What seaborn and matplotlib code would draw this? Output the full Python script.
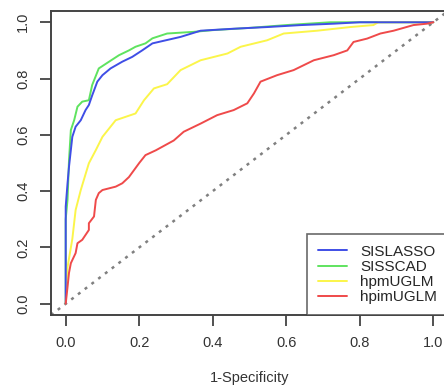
import pandas as pd
import matplotlib
matplotlib.use('Agg')
import matplotlib.pyplot as plt
import seaborn as sns

# ROC points (1-specificity, sensitivity)
lasso_fpr = [0.0, 0.0, 0.0, 0.005, 0.009, 0.014, 0.018, 0.027, 0.041, 0.054, 0.063,
             0.072, 0.086, 0.1, 0.122, 0.154, 0.181, 0.208, 0.236, 0.3125, 0.367,
             0.457, 0.548, 0.64, 0.73, 0.80, 1.0]
lasso_tpr = [0.0, 0.20, 0.345, 0.428, 0.487, 0.546, 0.593, 0.629, 0.652, 0.688, 0.706,
             0.74, 0.789, 0.812, 0.836, 0.86, 0.877, 0.90, 0.925, 0.948, 0.97,
             0.977, 0.983, 0.99, 0.995, 1.0, 1.0]

scad_fpr = [0.0, 0.0, 0.005, 0.009, 0.014, 0.023, 0.032, 0.045, 0.063, 0.072, 0.09,
            0.118, 0.145, 0.172, 0.19, 0.217, 0.236, 0.276, 0.349, 0.40, 0.50,
            0.60, 0.72, 1.0]
scad_tpr = [0.0, 0.30, 0.37, 0.51, 0.617, 0.652, 0.70, 0.718, 0.723, 0.777, 0.836,
            0.86, 0.883, 0.90, 0.913, 0.925, 0.943, 0.96, 0.966, 0.972, 0.98,
            0.99, 1.0, 1.0]

hpm_fpr = [0.0, 0.005, 0.018, 0.027, 0.041, 0.063, 0.082, 0.1, 0.136, 0.19, 0.213,
           0.24, 0.276, 0.3125, 0.367, 0.44, 0.476, 0.548, 0.593, 0.684,
           0.774, 0.837, 0.85, 1.0]
hpm_tpr = [0.0, 0.13, 0.23, 0.333, 0.404, 0.499, 0.546, 0.593, 0.652, 0.676, 0.723,
           0.765, 0.78, 0.83, 0.865, 0.889, 0.913, 0.936, 0.96, 0.97,
           0.983, 0.99, 1.0, 1.0]

hpim_fpr = [0.0, 0.005, 0.009, 0.014, 0.027, 0.032, 0.045, 0.063, 0.063, 0.077, 0.082,
            0.09, 0.1, 0.136, 0.154, 0.172, 0.2, 0.217, 0.245, 0.294, 0.321,
            0.367, 0.412, 0.457, 0.494, 0.512, 0.53, 0.575, 0.62, 0.675, 0.729,
            0.766, 0.783, 0.82, 0.856, 0.892, 0.946, 0.983, 1.0]
hpim_tpr = [0.0, 0.06, 0.11, 0.144, 0.18, 0.215, 0.227, 0.262, 0.286, 0.31, 0.369,
            0.393, 0.404, 0.416, 0.428, 0.45, 0.50, 0.528, 0.545, 0.58, 0.611,
            0.64, 0.67, 0.688, 0.712, 0.747, 0.789, 0.812, 0.83, 0.865, 0.883,
            0.90, 0.93, 0.942, 0.96, 0.97, 0.99, 0.995, 1.0]

methods = ['SISLASSO', 'SISSCAD', 'hpmUGLM', 'hpimUGLM']
colors = {'SISLASSO': '#3f4ee6', 'SISSCAD': '#5fe35f',
          'hpmUGLM': '#fbf54a', 'hpimUGLM': '#ef4a4a'}
x_ticks = [0.0, 0.2, 0.4, 0.6, 0.8, 1.0]
y_ticks = [0.0, 0.2, 0.4, 0.6, 0.8, 1.0]

curves = {'SISLASSO': (lasso_fpr, lasso_tpr), 'SISSCAD': (scad_fpr, scad_tpr),
          'hpmUGLM': (hpm_fpr, hpm_tpr), 'hpimUGLM': (hpim_fpr, hpim_tpr)}
rows = []
for m in methods:
    fx, ty = curves[m]
    for i, (a, b) in enumerate(zip(fx, ty)):
        rows.append({'method': m, 'fpr': a, 'tpr': b, 'order': i})
df = pd.DataFrame(rows)

sns.set_style('white')
plt.rcParams['font.family'] = ['Liberation Sans', 'DejaVu Sans']

fig = plt.figure(figsize=(4.44, 3.85), dpi=100)
ax = fig.add_axes([51 / 444, 1 - 315 / 385, 397 / 444, 304 / 385])

# draw order: green under blue, blue under the others
draw_order = ['SISSCAD', 'hpmUGLM', 'SISLASSO', 'hpimUGLM']
for m in draw_order:
    sns.lineplot(data=df[df['method'] == m], x='fpr', y='tpr', color=colors[m],
                 sort=False, estimator=None, linewidth=1.4, label=m, ax=ax)

ax.axline((0, 0), (1, 1), color='#808080', linestyle=(0, (1.2, 2.2)), linewidth=1.8, zorder=1)

ax.set_xlim(-0.04, 1.04)
ax.set_ylim(-0.04, 1.04)
ax.set_xticks(x_ticks)
ax.set_yticks(y_ticks)
ax.set_xticklabels([f'{t:.1f}' for t in x_ticks], fontsize=10.5, color='#333333')
ax.set_yticklabels([f'{t:.1f}' for t in y_ticks], fontsize=10.5, color='#333333',
                   rotation=90, va='center')
ax.tick_params(axis='both', direction='out', length=8, width=1.2, color='#333333',
               bottom=True, left=True, pad=7)
ax.set_xlabel('1-Specificity', fontsize=10.5, color='#333333', labelpad=15)
ax.set_ylabel('')
for s in ax.spines.values():
    s.set_color('#444444')
    s.set_linewidth(1.4)

handles, labels = ax.get_legend_handles_labels()
hmap = dict(zip(labels, handles))
leg = ax.legend([hmap[m] for m in methods], methods, loc='lower right',
                fontsize=11, frameon=True, fancybox=False, borderpad=0.7,
                handlelength=1.9, handletextpad=0.9, labelspacing=0.08,
                borderaxespad=0, bbox_to_anchor=(1.0, 0.0))
leg.get_frame().set_edgecolor('#444444')
leg.get_frame().set_linewidth(1.2)

fig.savefig('out.png', dpi=100)
